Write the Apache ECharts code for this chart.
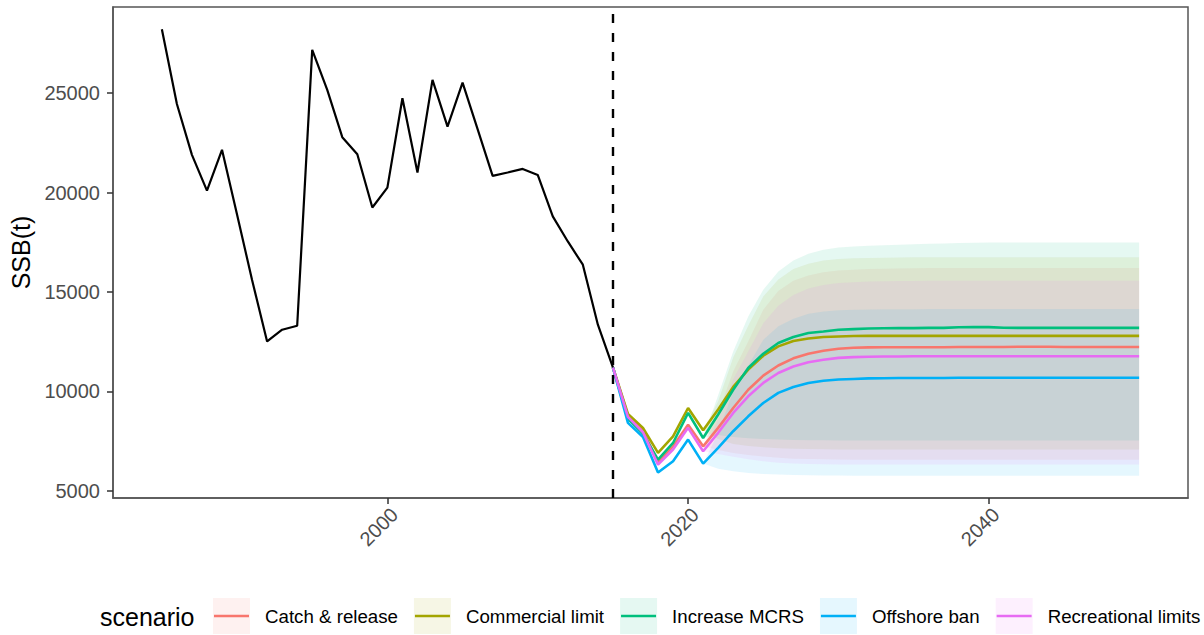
<!DOCTYPE html>
<html>
<head>
<meta charset="utf-8">
<script src="https://cdn.jsdelivr.net/npm/echarts@6/dist/echarts.min.js"></script>
<style>
  html, body { margin: 0; padding: 0; background: #ffffff; }
  #chart { width: 1204px; height: 635px; }
</style>
</head>
<body>
<div id="chart"></div>
<script>
// ---- Historical spawning stock biomass, 1985-2015 ----
const histYears = [1985, 1986, 1987, 1988, 1989, 1990, 1991, 1992, 1993, 1994, 1995, 1996, 1997, 1998, 1999, 2000,
  2001, 2002, 2003, 2004, 2005, 2006, 2007, 2008, 2009, 2010, 2011, 2012, 2013, 2014, 2015];
const histSSB = [28220, 24460, 21900, 20100, 22150, 18900, 15600, 12510, 13100, 13300, 27180, 25170, 22790, 21930, 19250, 20250,
  24750, 21010, 25670, 23320, 25530, 23190, 20840, 21010, 21190, 20890, 18800, 17540, 16370, 13350, 11200];

// ---- Projection years, 2015-2050 ----
const projYears = [2015, 2016, 2017, 2018, 2019, 2020, 2021, 2022, 2023, 2024, 2025, 2026, 2027, 2028, 2029, 2030,
  2031, 2032, 2033, 2034, 2035, 2036, 2037, 2038, 2039, 2040, 2041, 2042, 2043, 2044, 2045, 2046, 2047, 2048, 2049, 2050];

// Catch & release
const crLine  = [11200, 8770, 8040, 6430, 7230, 8320, 7230, 8160, 9160, 10080, 10790, 11300, 11660, 11890, 12040, 12140,
  12190, 12210, 12220, 12220, 12220, 12220, 12220, 12230, 12230, 12230, 12230, 12240, 12240, 12240, 12230, 12230, 12230, 12230, 12230, 12230];
const crLower = [11200, 8770, 8040, 6430, 7230, 8320, 7230, 7050, 6900, 6800, 6720, 6650, 6610, 6590, 6580, 6570,
  6560, 6560, 6560, 6560, 6560, 6560, 6560, 6560, 6560, 6560, 6560, 6560, 6560, 6560, 6560, 6560, 6560, 6560, 6560, 6560];
const crUpper = [11200, 8770, 8040, 6430, 7230, 8320, 7230, 8900, 11000, 12500, 14100, 15050, 15560, 15830, 15990, 16080,
  16120, 16150, 16170, 16180, 16190, 16200, 16200, 16200, 16200, 16200, 16200, 16200, 16200, 16200, 16200, 16200, 16200, 16200, 16200, 16200];

// Commercial limit
const comLine  = [11200, 8860, 8160, 6900, 7730, 9160, 8040, 9080, 10220, 11090, 11790, 12260, 12530, 12660, 12730, 12760,
  12780, 12790, 12790, 12790, 12790, 12790, 12790, 12790, 12790, 12790, 12790, 12790, 12790, 12790, 12790, 12790, 12790, 12790, 12790, 12790];
const comLower = [11200, 8860, 8160, 6900, 7730, 9160, 8040, 7600, 7350, 7250, 7180, 7140, 7110, 7090, 7080, 7075,
  7065, 7065, 7065, 7065, 7065, 7065, 7065, 7065, 7065, 7065, 7065, 7065, 7065, 7065, 7065, 7065, 7065, 7065, 7065, 7065];
const comUpper = [11200, 8860, 8160, 6900, 7730, 9160, 8040, 9500, 11700, 13300, 14770, 15620, 16150, 16420, 16580, 16660,
  16690, 16710, 16720, 16730, 16740, 16750, 16750, 16750, 16750, 16750, 16750, 16750, 16750, 16750, 16750, 16750, 16750, 16750, 16750, 16750];

// Increase MCRS
const mcrsLine  = [11200, 8610, 7870, 6560, 7400, 8910, 7650, 8830, 10080, 11170, 11890, 12430, 12730, 12930, 13010, 13100,
  13130, 13160, 13170, 13180, 13180, 13190, 13190, 13220, 13230, 13230, 13200, 13190, 13190, 13190, 13190, 13190, 13190, 13190, 13190, 13190];
const mcrsLower = [11200, 8610, 7870, 6560, 7400, 8910, 7650, 7800, 7700, 7640, 7600, 7570, 7550, 7540, 7535, 7530,
  7525, 7520, 7520, 7520, 7520, 7520, 7520, 7520, 7520, 7520, 7520, 7520, 7520, 7520, 7520, 7520, 7520, 7520, 7520, 7520];
const mcrsUpper = [11200, 8610, 7870, 6560, 7400, 8910, 7650, 9800, 12000, 13770, 15110, 16030, 16580, 16920, 17120, 17240,
  17290, 17320, 17350, 17370, 17400, 17420, 17440, 17460, 17480, 17490, 17490, 17490, 17490, 17490, 17490, 17490, 17490, 17490, 17490, 17490];

// Offshore ban
const offLine  = [11200, 8410, 7700, 5910, 6480, 7570, 6360, 7150, 7990, 8740, 9410, 9920, 10220, 10420, 10530, 10590,
  10620, 10650, 10660, 10670, 10670, 10670, 10670, 10680, 10680, 10680, 10680, 10680, 10680, 10680, 10680, 10680, 10680, 10680, 10680, 10680];
const offLower = [11200, 8410, 7700, 5910, 6480, 7570, 6360, 6100, 5980, 5890, 5840, 5810, 5790, 5775, 5765, 5760,
  5750, 5750, 5750, 5750, 5750, 5750, 5750, 5750, 5750, 5750, 5750, 5750, 5750, 5750, 5750, 5750, 5750, 5750, 5750, 5750];
const offUpper = [11200, 8410, 7700, 5910, 6480, 7570, 6360, 7900, 10000, 11300, 12600, 13270, 13650, 13900, 14020, 14080,
  14100, 14120, 14125, 14130, 14135, 14140, 14140, 14140, 14140, 14140, 14140, 14140, 14140, 14140, 14140, 14140, 14140, 14140, 14140, 14140];

// Recreational limits
const recLine  = [11200, 8710, 7940, 6310, 7070, 8160, 6980, 7910, 8910, 9750, 10420, 10920, 11250, 11460, 11590, 11680,
  11720, 11740, 11750, 11750, 11760, 11760, 11760, 11760, 11760, 11760, 11760, 11760, 11760, 11760, 11760, 11760, 11760, 11760, 11760, 11760];
const recLower = [11200, 8710, 7940, 6310, 7070, 8160, 6980, 6850, 6700, 6580, 6480, 6400, 6360, 6340, 6330, 6320,
  6310, 6310, 6310, 6310, 6310, 6310, 6310, 6310, 6310, 6310, 6310, 6310, 6310, 6310, 6310, 6310, 6310, 6310, 6310, 6310];
const recUpper = [11200, 8710, 7940, 6310, 7070, 8160, 6980, 8600, 10600, 12000, 13430, 14300, 14850, 15170, 15350, 15450,
  15490, 15520, 15535, 15545, 15550, 15560, 15560, 15560, 15560, 15560, 15560, 15560, 15560, 15560, 15560, 15560, 15560, 15560, 15560, 15560];

const scenarioNames = ['Catch & release', 'Commercial limit', 'Increase MCRS', 'Offshore ban', 'Recreational limits'];
const scenarioColors = ['#F8766D', '#A3A500', '#00BF7D', '#00B0F6', '#E76BF3'];

const xTicks = [2000, 2020, 2040];
const yTicks = [5000, 10000, 15000, 20000, 25000];
const projectionStart = 2015;

// ---- assembled scenario table ----
const scenarios = [
  { line: crLine,   lower: crLower,   upper: crUpper },
  { line: comLine,  lower: comLower,  upper: comUpper },
  { line: mcrsLine, lower: mcrsLower, upper: mcrsUpper },
  { line: offLine,  lower: offLower,  upper: offUpper },
  { line: recLine,  lower: recLower,  upper: recUpper }
].map((s, i) => Object.assign(s, { name: scenarioNames[i], color: scenarioColors[i] }));

const FONT = '"Liberation Sans", Arial, Helvetica, sans-serif';

function withAlpha(hex, a) {
  const n = parseInt(hex.slice(1), 16);
  return 'rgba(' + ((n >> 16) & 255) + ',' + ((n >> 8) & 255) + ',' + (n & 255) + ',' + a + ')';
}
const pairs = (xs, ys) => xs.map((x, k) => [x, ys[k]]);

const series = [];

// uncertainty ribbons: one polygon per scenario, upper edge forward and lower edge back
scenarios.forEach((s) => {
  series.push({
    type: 'custom', name: s.name, silent: true, z: 1,
    data: projYears.map((y, k) => [y, s.lower[k], s.upper[k]]),
    encode: { x: 0, y: [1, 2] },
    renderItem: function (params, api) {
      if (params.dataIndex !== 0) return null;
      const n = params.dataInsideLength;
      const top = [], bottom = [];
      for (let k = 0; k < projYears.length; k++) {
        top.push(api.coord([projYears[k], s.upper[k]]));
        bottom.push(api.coord([projYears[k], s.lower[k]]));
      }
      return {
        type: 'polygon',
        shape: { points: top.concat(bottom.reverse()) },
        style: { fill: withAlpha(s.color, 0.1), stroke: null }
      };
    }
  });
});

// median trajectories
scenarios.forEach((s) => {
  series.push({
    type: 'line', name: s.name, silent: true,
    data: pairs(projYears, s.line),
    symbol: 'none',
    itemStyle: { color: s.color },
    lineStyle: { color: s.color, width: 2.6 }, z: 3
  });
});

// assessment period
series.push({
  type: 'line', name: 'history', silent: true,
  data: pairs(histYears, histSSB),
  symbol: 'none',
  itemStyle: { color: '#000000' },
  lineStyle: { color: '#000000', width: 2.2 }, z: 4,
  markLine: {
    silent: true, symbol: 'none', animation: false,
    label: { show: false },
    lineStyle: { color: '#000000', width: 2.4, type: [9, 10] },
    data: [{ xAxis: projectionStart }]
  }
});

const legendCommon = {
  left: 213, top: 598, orient: 'horizontal', padding: 0,
  itemWidth: 37, itemHeight: 36, itemGap: 16,
  selectedMode: false,
  itemStyle: { borderWidth: 0 },
  textStyle: { fontSize: 18.7, fontFamily: FONT, padding: [0, 0, 0, 10] }
};

const option = {
  animation: false,
  backgroundColor: '#ffffff',
  textStyle: { fontFamily: FONT },
  grid: {
    left: 113, right: 16, top: 7, bottom: 137,
    show: true, borderColor: '#555555', borderWidth: 1.5,
    containLabel: false, outerBoundsMode: 'none'
  },
  xAxis: {
    type: 'value', min: 1981.75, max: 2053.25,
    splitLine: { show: false },
    axisLine: { show: true, onZero: false, lineStyle: { color: '#555555', width: 1.5 } },
    axisTick: { show: true, length: 6, customValues: xTicks, lineStyle: { color: '#333333', width: 1.5 } },
    axisLabel: {
      customValues: xTicks, rotate: 45, margin: 6, verticalAlign: 'top',
      fontSize: 20, color: '#4D4D4D', fontFamily: FONT,
      formatter: (v) => String(v)
    }
  },
  yAxis: {
    type: 'value', min: 4630, max: 29340,
    name: 'SSB(t)', nameLocation: 'middle', nameGap: 75, nameRotate: 90,
    nameTextStyle: { fontSize: 25, color: '#000000', fontFamily: FONT },
    splitLine: { show: false },
    axisLine: { show: true, onZero: false, lineStyle: { color: '#555555', width: 1.5 } },
    axisTick: { show: true, length: 6, customValues: yTicks, lineStyle: { color: '#333333', width: 1.5 } },
    axisLabel: {
      customValues: yTicks, margin: 13,
      fontSize: 20, color: '#4D4D4D', fontFamily: FONT,
      formatter: (v) => String(v)
    }
  },
  legend: [
    // key backgrounds
    Object.assign({}, legendCommon, {
      icon: 'rect',
      data: scenarios.map((s) => ({ name: s.name, itemStyle: { color: withAlpha(s.color, 0.1) } })),
      textStyle: Object.assign({}, legendCommon.textStyle, { color: '#000000' })
    }),
    // key lines drawn over the backgrounds
    Object.assign({}, legendCommon, {
      icon: 'path://M0,0L0.01,0L0,0.01ZM37,36L36.99,36L37,35.99ZM1,16.75L36,16.75L36,19.25L1,19.25Z',
      data: scenarios.map((s) => ({ name: s.name, itemStyle: { color: s.color } })),
      textStyle: Object.assign({}, legendCommon.textStyle, { color: 'rgba(0,0,0,0)' })
    })
  ],
  graphic: [{
    type: 'text', x: 100, y: 617,
    style: { text: 'scenario', fontSize: 25, fontFamily: FONT, fill: '#000000', verticalAlign: 'middle' }
  }],
  series: series
};

const chart = echarts.init(document.getElementById('chart'), null, { renderer: 'svg' });
chart.setOption(option);
</script>
</body>
</html>
